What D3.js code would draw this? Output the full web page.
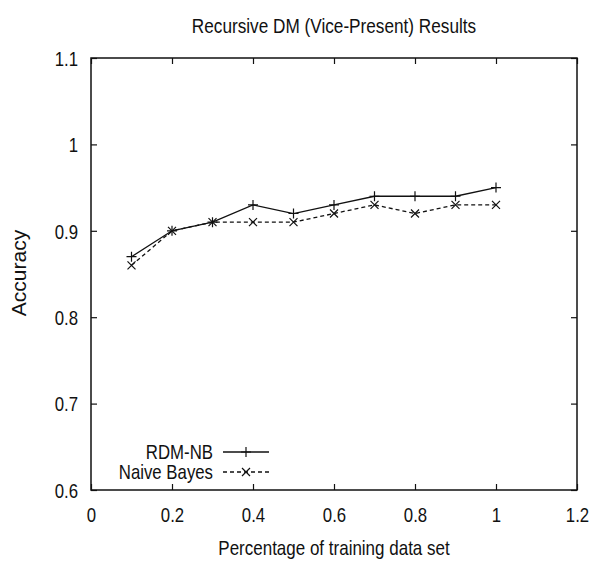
<!DOCTYPE html>
<html><head><meta charset="utf-8">
<script src="https://cdn.jsdelivr.net/npm/d3@7"></script>
<style>body{margin:0;background:#fff}svg text{font-family:"Liberation Sans",Arial,sans-serif;fill:#111}</style>
</head><body><svg id="c" width="595" height="562"></svg>
<script>
const xValues = [0.1,0.2,0.3,0.4,0.5,0.6,0.7,0.8,0.9,1.0];
const rdmNB = [0.87,0.90,0.91,0.93,0.92,0.93,0.94,0.94,0.94,0.95];
const naiveBayes = [0.86,0.90,0.91,0.91,0.91,0.92,0.93,0.92,0.93,0.93];
const xTicks = [0,0.2,0.4,0.6,0.8,1,1.2];
const yTicks = [0.6,0.7,0.8,0.9,1,1.1];
const seriesNames = ["RDM-NB","Naive Bayes"];

const SX = 0.84, FS = 20;
const svg = d3.select("#c");
const L=91,R=577,T=58,B=490;
const x = d3.scaleLinear().domain([0,1.2]).range([L,R]);
const y = d3.scaleLinear().domain([0.6,1.1]).range([B,T]);
const fmt = d => d3.format("")(+d.toFixed(1));
const tl=6;
svg.append("rect").attr("x",L).attr("y",T).attr("width",R-L).attr("height",B-T).attr("fill","none").attr("stroke","#111").attr("stroke-width",1.5);
const xa = svg.append("g").attr("transform",`translate(0,${B})`).call(d3.axisBottom(x).tickValues(xTicks).tickSize(-tl).tickFormat(fmt));
xa.select(".domain").remove();
xa.selectAll("text").attr("y",32).attr("x",0).attr("font-size",FS).attr("dy",0).attr("transform",`scale(${SX},1)`);
const xt = svg.append("g").attr("transform",`translate(0,${T})`).call(d3.axisTop(x).tickValues(xTicks).tickSize(-tl).tickFormat(""));
xt.select(".domain").remove();
const ya = svg.append("g").attr("transform",`translate(${L},0)`).call(d3.axisLeft(y).tickValues(yTicks).tickSize(-tl).tickFormat(fmt));
ya.select(".domain").remove();
ya.selectAll("text").attr("x",-13/SX).attr("font-size",FS).attr("dy","0.36em").attr("transform",`scale(${SX},1)`);
const yr = svg.append("g").attr("transform",`translate(${R},0)`).call(d3.axisRight(y).tickValues(yTicks).tickSize(-tl).tickFormat(""));
yr.select(".domain").remove();
svg.selectAll(".tick line").attr("stroke","#111").attr("stroke-width",1.2);

const line = d3.line().x((d,i)=>x(xValues[i])).y(d=>y(d));
const data = [rdmNB, naiveBayes];
const dashes = [null,"4,3"];
data.forEach((s,k)=>{
  svg.append("path").datum(s).attr("d",line).attr("fill","none").attr("stroke","#111").attr("stroke-width",1.3).attr("stroke-dasharray",dashes[k]);
});
function plus(sel,cx,cy){sel.append("path").attr("d",`M${cx-5},${cy}H${cx+5}M${cx},${cy-5}V${cy+5}`).attr("stroke","#111").attr("stroke-width",1.2);}
function cross(sel,cx,cy){sel.append("path").attr("d",`M${cx-4},${cy-4}L${cx+4},${cy+4}M${cx-4},${cy+4}L${cx+4},${cy-4}`).attr("stroke","#111").attr("stroke-width",1.2);}
rdmNB.forEach((v,i)=>plus(svg,x(xValues[i]),y(v)));
naiveBayes.forEach((v,i)=>cross(svg,x(xValues[i]),y(v)));

function label(tx,ty,rot,sx,anchor,txt){
  svg.append("text").attr("transform",`translate(${tx},${ty}) rotate(${rot}) scale(${sx},1)`).attr("text-anchor",anchor).attr("font-size",FS).text(txt);
}
const ly=[452,472];
seriesNames.forEach((n,k)=>{
  label(213,ly[k]+7,0,SX,"end",n);
  svg.append("line").attr("x1",223).attr("x2",269).attr("y1",ly[k]).attr("y2",ly[k]).attr("stroke","#111").attr("stroke-width",1.3).attr("stroke-dasharray",dashes[k]);
  if(k===0) plus(svg,246,ly[k]); else cross(svg,246,ly[k]);
});
label(334,33,0,0.86,"middle","Recursive DM (Vice-Present) Results");
label(334,555,0,0.85,"middle","Percentage of training data set");
label(26,273,-90,1.05,"middle","Accuracy");
</script></body></html>
